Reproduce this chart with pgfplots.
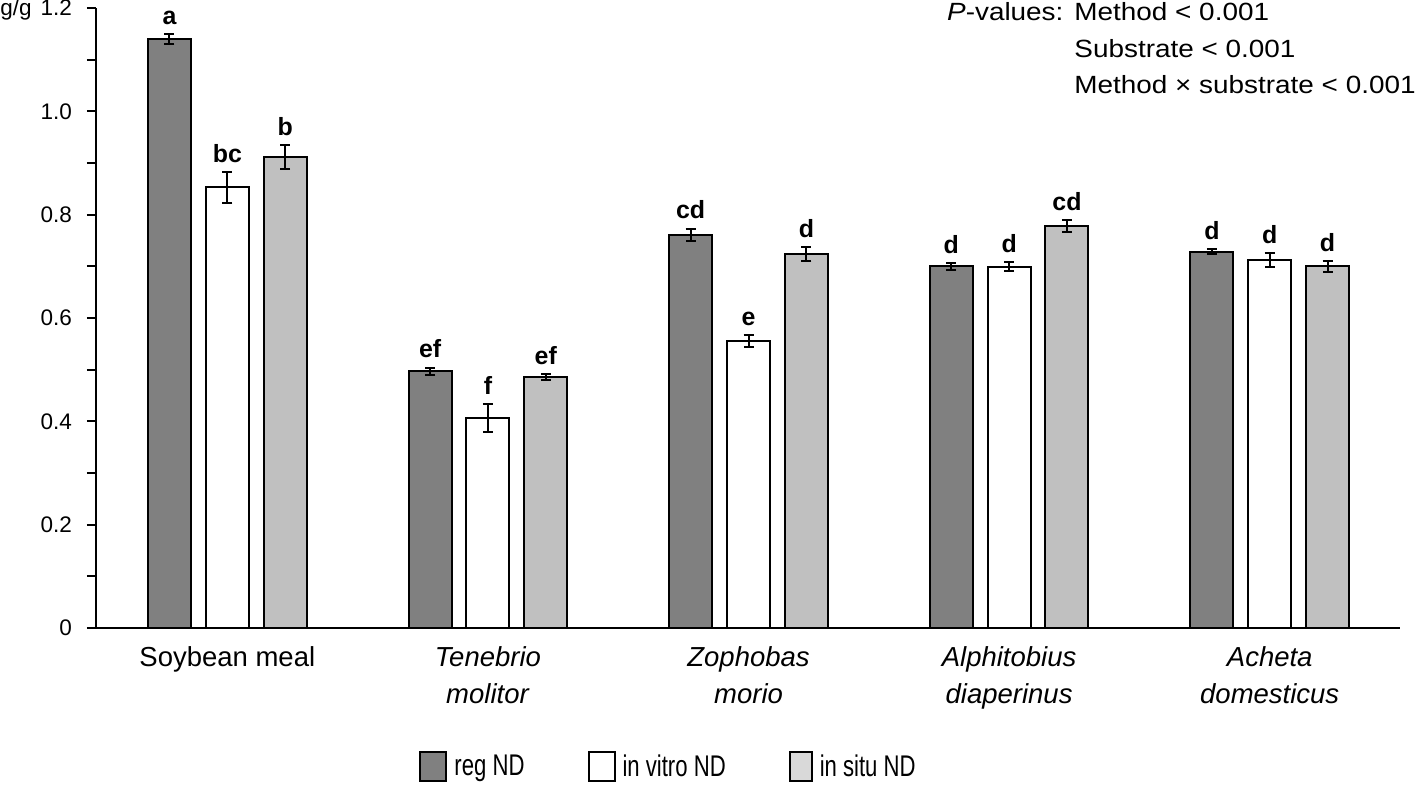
\documentclass[border=0pt]{standalone}
\usepackage{pgfplots}
\usepackage{pgfplotstable}
\pgfplotsset{compat=1.18}
\usepackage{fontspec}
\setmainfont{Liberation Sans}
\definecolor{regc}{HTML}{808080}
\definecolor{situc}{HTML}{C0C0C0}
\definecolor{situleg}{HTML}{D9D9D9}

\pgfplotstableread{
x y err lab
0 1.140 0.010 a
1 0.497 0.007 ef
2 0.761 0.012 cd
3 0.700 0.007 d
4 0.728 0.005 d
}\regdata
\pgfplotstableread{
x y err lab
0 0.853 0.030 bc
1 0.406 0.027 f
2 0.555 0.012 e
3 0.699 0.009 d
4 0.712 0.013 d
}\vitrodata
\pgfplotstableread{
x y err lab
0 0.912 0.023 b
1 0.486 0.006 ef
2 0.724 0.014 d
3 0.778 0.012 cd
4 0.700 0.011 d
}\situdata

\newcommand{\legtext}[1]{\scalebox{0.74}[1]{#1}}
\newcommand{\pw}[1]{\scalebox{1.12}[1]{#1}}

\begin{document}
\begin{tikzpicture}
\useasboundingbox (-48bp,-82bp) rectangle (661bp,314bp);
\begin{axis}[
  at={(0,0)}, anchor=south west,
  scale only axis, width=652bp, height=310bp,
  xmin=-0.504, xmax=4.5, ymin=0, ymax=1.2,
  axis x line*=bottom, axis y line*=left,
  axis line style={line width=1bp, -},
  xtick={0,1,2,3,4},
  xticklabels={Soybean meal, {\textit{Tenebrio}\\\textit{molitor}}, {\textit{Zophobas}\\\textit{morio}}, {\textit{Alphitobius}\\\textit{diaperinus}}, {\textit{Acheta}\\\textit{domesticus}}},
  xtick style={draw=none},
  xticklabel style={align=center, font=\fontsize{13.8}{18.5}\selectfont, anchor=north, yshift=-1.5bp},
  ytick={0,0.2,0.4,0.6,0.8,1.0,1.2},
  yticklabels={0,0.2,0.4,0.6,0.8,1.0,1.2},
  minor ytick={0.1,0.3,0.5,0.7,0.9,1.1},
  yticklabel style={font=\fontsize{11.3}{13}\selectfont, xshift=-4bp},
  tick align=outside, major tick length=4.5bp, minor tick length=4.5bp,
  ytick style={line width=1bp, black},
  minor y tick style={line width=1bp, black},
  clip=false,
  legend columns=3,
  legend style={at={(0.441,-0.224)}, anchor=center, draw=none, font=\fontsize{15}{16}\selectfont,
    /tikz/every even column/.append style={column sep=28bp},
    nodes={inner xsep=3.5bp}},
  legend cell align=left,
  error bars/error bar style={line width=1bp, black},
  error bars/error mark options={rotate=90, mark size=2.5bp, line width=1bp, black},
]
\addplot[ybar, bar width=0.165, bar shift=0, fill=regc, draw=black, line width=1bp,
  legend image code/.code={\draw[line width=1bp, fill=regc] (0bp,-7.25bp) rectangle (13bp,7.25bp);},
  error bars/.cd, y dir=both, y explicit]
  table[x expr=\thisrow{x}-0.222, y=y, y error=err] \regdata;
\addlegendentry{\legtext{reg ND}}
\addplot[ybar, bar width=0.165, bar shift=0, fill=white, draw=black, line width=1bp,
  legend image code/.code={\draw[line width=1bp, fill=white] (0bp,-7.25bp) rectangle (13bp,7.25bp);},
  error bars/.cd, y dir=both, y explicit]
  table[x expr=\thisrow{x}, y=y, y error=err] \vitrodata;
\addlegendentry{\legtext{in vitro ND}}
\addplot[ybar, bar width=0.165, bar shift=0, fill=situc, draw=black, line width=1bp,
  legend image code/.code={\draw[line width=1bp, fill=situleg] (0bp,-7.25bp) rectangle (11bp,7.25bp);},
  error bars/.cd, y dir=both, y explicit]
  table[x expr=\thisrow{x}+0.222, y=y, y error=err] \situdata;
\addlegendentry{\legtext{in situ ND}}

\pgfplotsset{lbl/.style={draw=none, mark=none, forget plot, nodes near coords, point meta=explicit symbolic,
  nodes near coords style={anchor=south, font=\bfseries\fontsize{12.5}{14}\selectfont, inner sep=0pt, yshift=4.5bp}}}
\addplot[lbl] table[x expr=\thisrow{x}-0.222, y expr=\thisrow{y}+\thisrow{err}, meta=lab] \regdata;
\addplot[lbl] table[x expr=\thisrow{x}, y expr=\thisrow{y}+\thisrow{err}, meta=lab] \vitrodata;
\addplot[lbl] table[x expr=\thisrow{x}+0.222, y expr=\thisrow{y}+\thisrow{err}, meta=lab] \situdata;

\node[anchor=base west, inner sep=0pt, font=\fontsize{11.3}{13}\selectfont] at (rel axis cs:0,1) [xshift=-48bp, yshift=-4bp] {g/g};
\node[anchor=base east, inner sep=0pt, font=\fontsize{12.5}{18.25}\selectfont] at (rel axis cs:1,1) [xshift=8bp, yshift=-6.5bp]
  {\begin{tabular}[t]{@{}r@{\hspace{5.5bp}}l@{}}\pw{\textit{P}-values:} & \pw{Method < 0.001}\\ & \pw{Substrate < 0.001}\\ & \pw{Method × substrate < 0.001}\end{tabular}};
\end{axis}
\end{tikzpicture}
\end{document}
